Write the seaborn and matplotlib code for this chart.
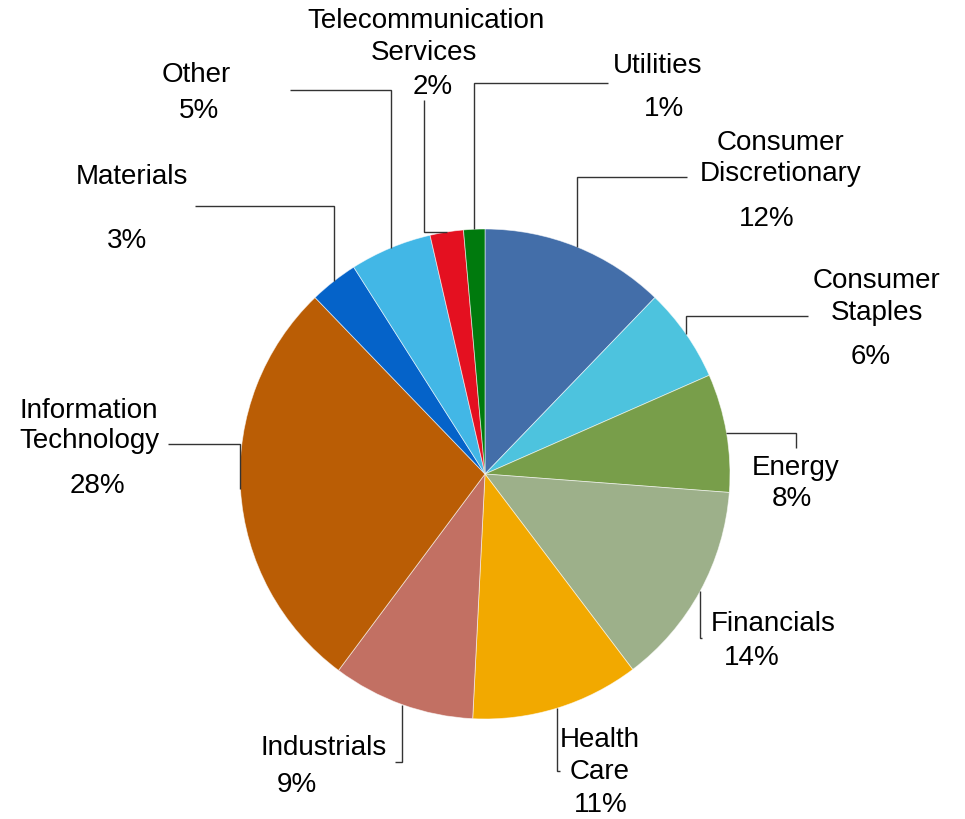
import numpy as np
import matplotlib
matplotlib.use("Agg")
import matplotlib.pyplot as plt
import seaborn as sns

# Sector weights (percent of portfolio), clockwise from 12 o'clock
sectors = [
    "Consumer Discretionary", "Consumer Staples", "Energy", "Financials",
    "Health Care", "Industrials", "Information Technology", "Materials",
    "Other", "Telecommunication Services", "Utilities",
]
weights = [12.2, 6.2, 7.8, 13.5, 11.1, 9.4, 27.6, 3.2, 5.4, 2.2, 1.4]
sector_colors = [
    "#436EA9", "#4DC3DE", "#789E4A", "#9DB08A", "#F2A900", "#C27063",
    "#BA5D05", "#0563C9", "#42B7E6", "#E41020", "#007A0D",
]
# How each sector name is broken across lines
name_lines = [
    ["Consumer", "Discretionary"], ["Consumer", "Staples"], ["Energy"],
    ["Financials"], ["Health", "Care"], ["Industrials"],
    ["Information", "Technology"], ["Materials"], ["Other"],
    ["Telecommunication", "Services"], ["Utilities"],
]

# ---- layout (pixel space of the 965x819 canvas) ----
W, H = 965, 819
CX, CY, R = 485, 474, 245

# baseline positions for each name line and for the percentage
name_pos = [
    [(781, 150), (781, 181)],
    [(877, 288), (877, 320)],
    [(796, 475)],
    [(773, 631)],
    [(600, 747), (600, 779)],
    [(324, 755)],
    [(89, 418), (89, 448)],
    [(132, 184)],
    [(196, 82)],
    [(426, 28), (424, 60)],
    [(658, 73)],
]
pct_pos = [
    (767, 226), (871, 364), (792, 506), (752, 665), (601, 812), (297, 792),
    (97, 493), (127, 248), (199, 118), (433, 94), (664, 116),
]
# leader lines: sequence of vertical ('v', y) / horizontal ('h', x) moves
leaders = [
    [("v", 177), ("h", 687)],
    [("v", 316), ("h", 808)],
    [("h", 796), ("v", 448)],
    [("v", 638), ("h", 702)],
    [("v", 771), ("h", 560)],
    [("v", 762), ("h", 395)],
    [("v", 444), ("h", 168)],
    [("v", 206), ("h", 195)],
    [("v", 90), ("h", 290)],
    [("h", 424), ("v", 100)],
    [("v", 83), ("h", 608)],
]


def to_data(x, y):
    return (x - CX) / R, (CY - y) / R


def to_px(u, v):
    return CX + u * R, CY - v * R


sns.set_theme(style="white")
plt.rcParams["font.family"] = ["Liberation Sans", "DejaVu Sans"]

fig = plt.figure(figsize=(W / 100, H / 100), dpi=100)
ax = fig.add_axes([0, 0, 1, 1])

palette = sns.color_palette(sector_colors)
wedges, _ = ax.pie(
    weights, colors=palette, startangle=90, counterclock=False, radius=1.0,
    wedgeprops=dict(edgecolor=(1, 1, 1, 0.6), linewidth=0.6),
)

ax.set_xlim(-CX / R, (W - CX) / R)
ax.set_ylim(-(H - CY) / R, CY / R)
ax.set_aspect("auto")
ax.axis("off")

total = sum(weights)
text_kw = dict(fontsize=20, color="black", ha="center", va="baseline")

for i, w in enumerate(wedges):
    mid = np.deg2rad((w.theta1 + w.theta2) / 2)
    sx, sy = to_px(np.cos(mid), np.sin(mid))
    pts = [(sx, sy)]
    for kind, val in leaders[i]:
        px, py = pts[-1]
        pts.append((px, val) if kind == "v" else (val, py))
    data_pts = np.array([to_data(x, y) for x, y in pts])
    ax.plot(data_pts[:, 0], data_pts[:, 1], color="#333333", lw=1.0,
            solid_capstyle="butt", solid_joinstyle="miter")

    for line, (x, y) in zip(name_lines[i], name_pos[i]):
        ax.text(*to_data(x, y), line, **text_kw)
    pct = weights[i] / total * 100
    ax.text(*to_data(*pct_pos[i]), f"{pct:.0f}%", **text_kw)

fig.savefig("out.png", dpi=100, facecolor="white")
